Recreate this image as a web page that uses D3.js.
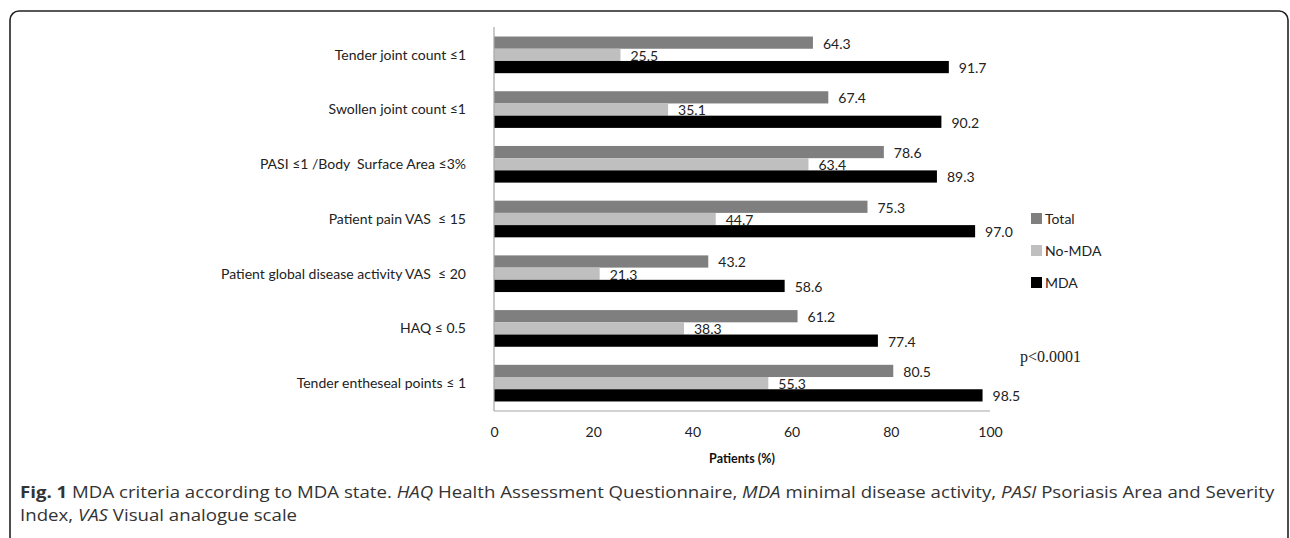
<!DOCTYPE html>
<html>
<head>
<meta charset="utf-8">
<script src="https://cdn.jsdelivr.net/npm/d3@7"></script>
<style>
  body { margin: 0; background: #fff; }
  svg { display: block; }
</style>
</head>
<body>
<svg id="chart" width="1290" height="538"></svg>
<script>
// dane
const categories = [
  "Tender joint count \u22641",
  "Swollen joint count \u22641",
  "PASI \u22641 /Body  Surface Area \u22643%",
  "Patient pain VAS  \u2264 15",
  "Patient global disease activity VAS  \u2264 20",
  "HAQ \u2264 0.5",
  "Tender entheseal points \u2264 1"
];
const seriesNames = ["Total", "No-MDA", "MDA"];
const totalVals = [64.3, 67.4, 78.6, 75.3, 43.2, 61.2, 80.5];
const noMdaVals = [25.5, 35.1, 63.4, 44.7, 21.3, 38.3, 55.3];
const mdaVals = [91.7, 90.2, 89.3, 97.0, 58.6, 77.4, 98.5];
const tickVals = [0, 20, 40, 60, 80, 100];

const colors = { "Total": "#7f7f7f", "No-MDA": "#bfbfbf", "MDA": "#000000" };
const seriesVals = { "Total": totalVals, "No-MDA": noMdaVals, "MDA": mdaVals };

const svg = d3.select("#chart");

// ramka z zaokrąglonymi rogami
svg.append("rect")
  .attr("x", 10).attr("y", 11)
  .attr("width", 1278).attr("height", 535)
  .attr("rx", 9).attr("ry", 9)
  .attr("fill", "none")
  .attr("stroke", "#222")
  .attr("stroke-width", 1.6);

const x = d3.scaleLinear().domain([0, 100]).range([494, 990]);
const y = d3.scaleBand().domain(categories).range([27.5, 410.5])
  .paddingInner(0.33).paddingOuter(0.165);
const ySub = d3.scaleBand().domain(seriesNames).range([0, y.bandwidth()]);

const fmt = d3.format(".1f");

// słupki
const groups = svg.append("g").selectAll("g")
  .data(categories)
  .join("g")
  .attr("transform", d => `translate(0,${y(d)})`);

groups.selectAll("rect")
  .data((d, i) => seriesNames.map(s => ({ s: s, v: seriesVals[s][i] })))
  .join("rect")
  .attr("x", x(0))
  .attr("y", d => ySub(d.s))
  .attr("width", d => x(d.v) - x(0))
  .attr("height", ySub.bandwidth())
  .attr("fill", d => colors[d.s]);

groups.selectAll("text")
  .data((d, i) => seriesNames.map(s => ({ s: s, v: seriesVals[s][i] })))
  .join("text")
  .attr("x", d => x(d.v) + 10)
  .attr("y", d => ySub(d.s) + ySub.bandwidth() / 2 + 1)
  .attr("dy", "0.35em")
  .attr("font-family", "Lato, sans-serif")
  .attr("font-size", 14)
  .attr("fill", "#222")
  .text(d => fmt(d.v));

// oś Y (linia + etykiety kategorii)
svg.append("line")
  .attr("x1", x(0)).attr("x2", x(0))
  .attr("y1", 27).attr("y2", 411)
  .attr("stroke", "#a6a6a6").attr("stroke-width", 1.2);

svg.append("line")
  .attr("x1", x(0)).attr("x2", x(100))
  .attr("y1", 411).attr("y2", 411)
  .attr("stroke", "#a6a6a6").attr("stroke-width", 1.2);

svg.append("g").selectAll("text")
  .data(categories)
  .join("text")
  .attr("x", 466)
  .attr("y", d => y(d) + y.bandwidth() / 2)
  .attr("dy", "0.35em")
  .attr("text-anchor", "end")
  .attr("xml:space", "preserve")
  .attr("font-family", "Lato, sans-serif")
  .attr("font-size", 14)
  .attr("fill", "#222")
  .text(d => d);

// oś X
const xAxis = svg.append("g")
  .attr("transform", "translate(0,411)")
  .call(d3.axisBottom(x).tickValues(tickVals).tickSize(0).tickPadding(16));
xAxis.select(".domain").remove();
xAxis.selectAll("text")
  .attr("font-family", "Lato, sans-serif")
  .attr("font-size", 14)
  .attr("fill", "#222");

svg.append("text")
  .attr("x", (x(0) + x(100)) / 2)
  .attr("y", 459)
  .attr("dy", "0.35em")
  .attr("text-anchor", "middle")
  .attr("font-family", "Lato, sans-serif")
  .attr("font-weight", "bold")
  .attr("font-size", 12.5)
  .attr("fill", "#111")
  .text("Patients (%)");

// legenda
const legend = svg.append("g").selectAll("g")
  .data(seriesNames)
  .join("g")
  .attr("transform", (d, i) => `translate(1031,${213 + i * 32})`);
legend.append("rect")
  .attr("width", 11).attr("height", 11)
  .attr("fill", d => colors[d]);
legend.append("text")
  .attr("x", 14).attr("y", 6)
  .attr("dy", "0.35em")
  .attr("font-family", "Lato, sans-serif")
  .attr("font-size", 14)
  .attr("fill", "#222")
  .text(d => d);

svg.append("text")
  .attr("x", 1020).attr("y", 356)
  .attr("dy", "0.35em")
  .attr("font-family", "'Liberation Serif', serif")
  .attr("font-size", 16)
  .attr("fill", "#222")
  .text("p<0.0001");

// podpis - rozciągnięty w poziomie, żeby pierwszy wiersz kończył się przy prawej krawędzi
const capG = svg.append("g");
const cap1 = capG.append("text")
  .attr("x", 0).attr("y", 498)
  .attr("font-family", "'Open Sans', sans-serif")
  .attr("font-size", 16.5)
  .attr("fill", "#333");
const parts1 = [
  ["Fig. 1", "bold", "normal"],
  [" MDA criteria according to MDA state. ", "normal", "normal"],
  ["HAQ", "normal", "italic"],
  [" Health Assessment Questionnaire, ", "normal", "normal"],
  ["MDA", "normal", "italic"],
  [" minimal disease activity, ", "normal", "normal"],
  ["PASI", "normal", "italic"],
  [" Psoriasis Area and Severity", "normal", "normal"]
];
parts1.forEach(p => cap1.append("tspan")
  .attr("font-weight", p[1]).attr("font-style", p[2])
  .attr("xml:space", "preserve").text(p[0]));

const cap2 = capG.append("text")
  .attr("x", 0).attr("y", 521)
  .attr("font-family", "'Open Sans', sans-serif")
  .attr("font-size", 16.5)
  .attr("fill", "#333");
const parts2 = [
  ["Index, ", "normal", "normal"],
  ["VAS", "normal", "italic"],
  [" Visual analogue scale", "normal", "normal"]
];
parts2.forEach(p => cap2.append("tspan")
  .attr("font-weight", p[1]).attr("font-style", p[2])
  .attr("xml:space", "preserve").text(p[0]));

const capLen = cap1.node().getComputedTextLength();
const sx = 1255 / capLen;
capG.attr("transform", `translate(20,0) scale(${sx},1)`);
</script>
</body>
</html>
